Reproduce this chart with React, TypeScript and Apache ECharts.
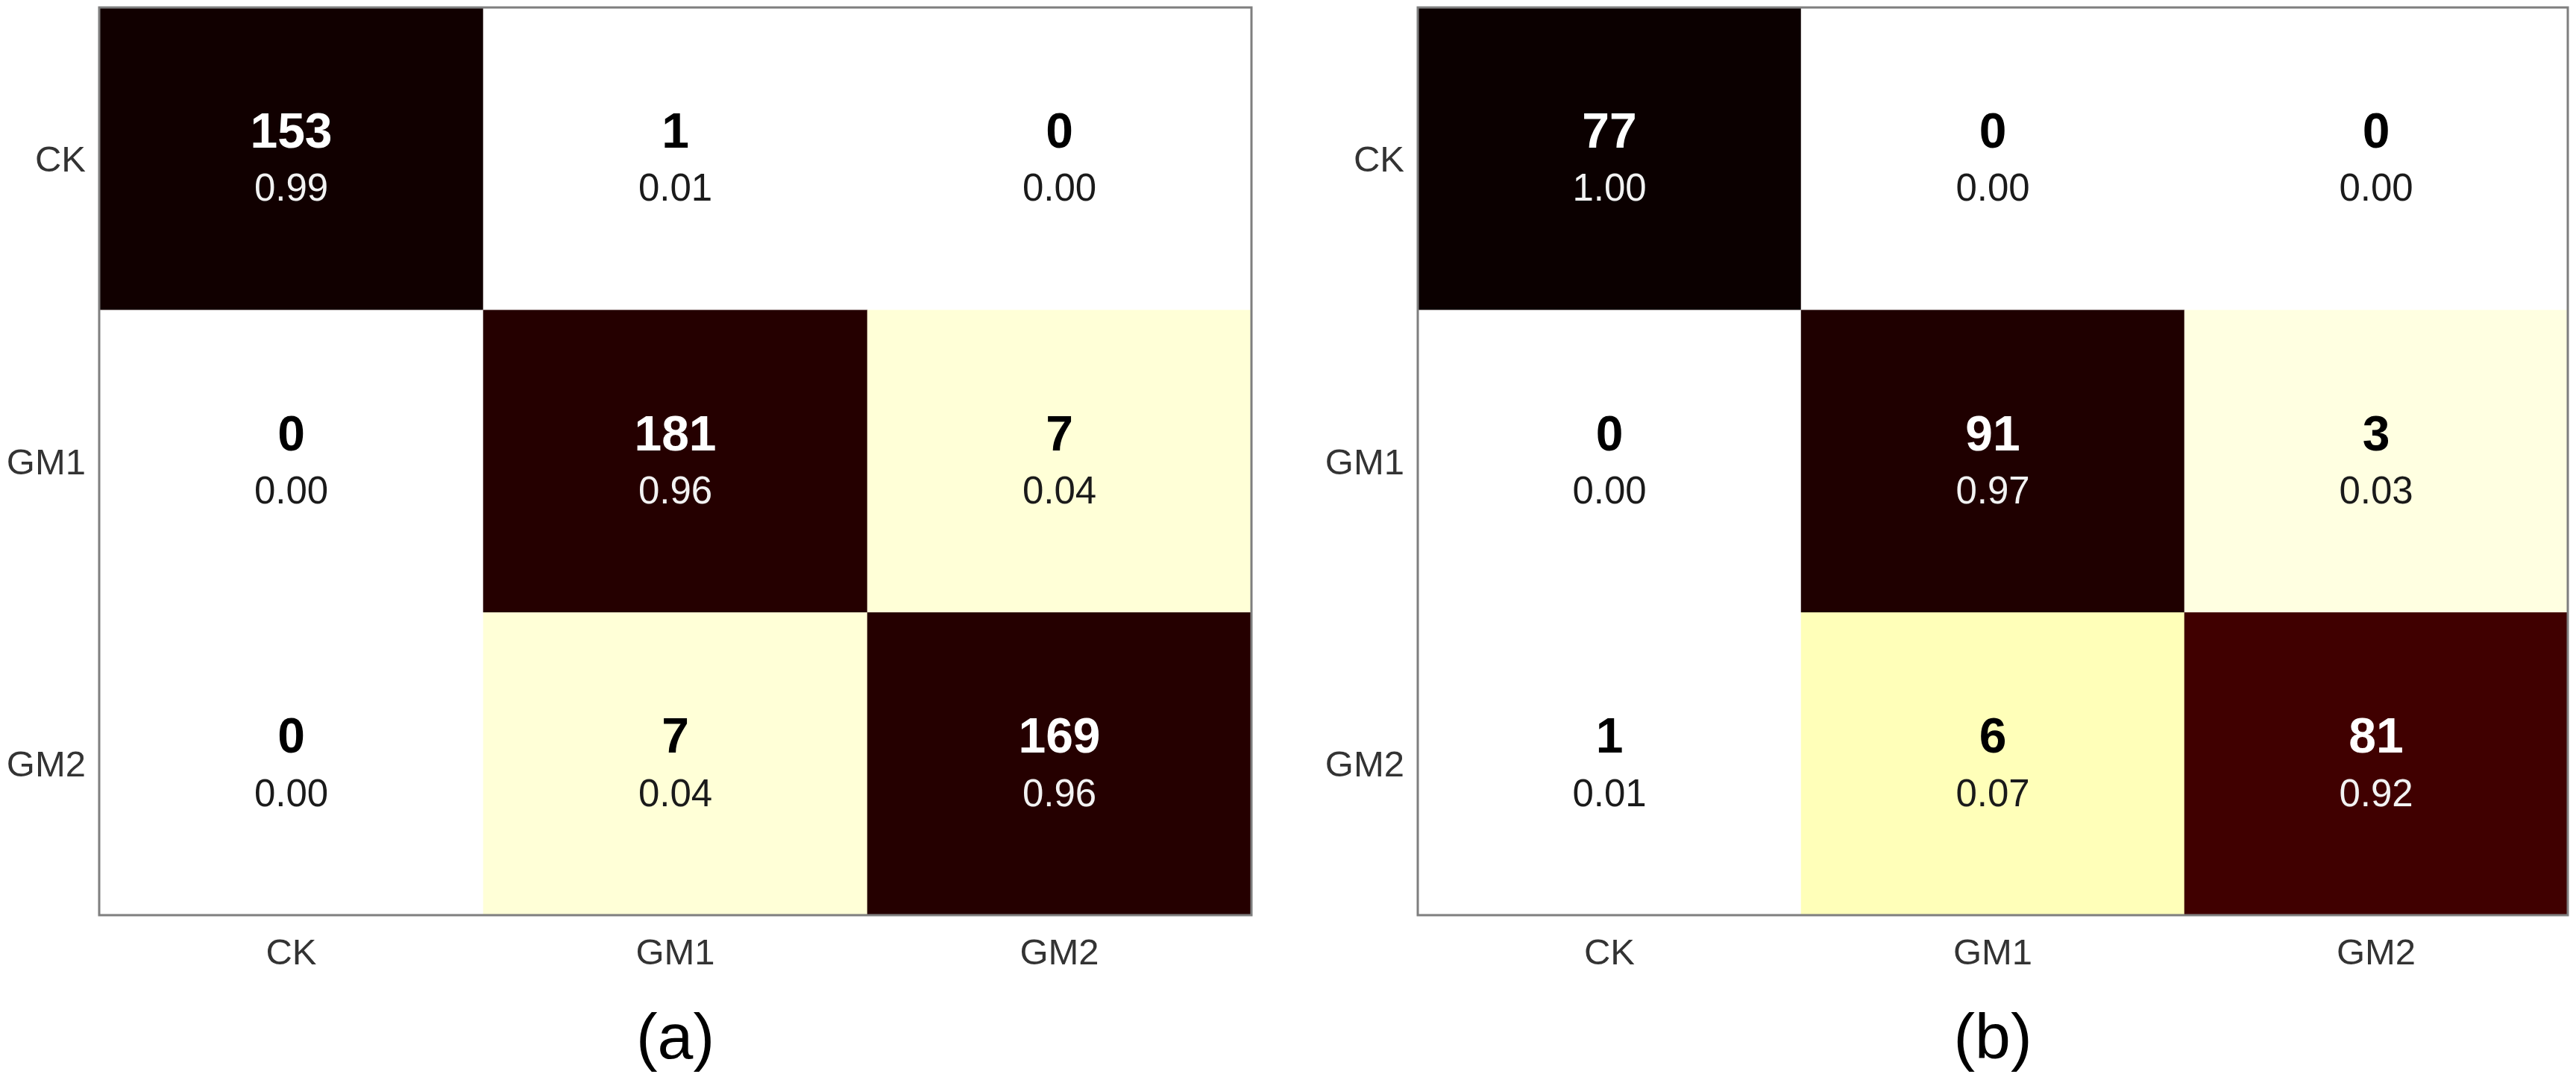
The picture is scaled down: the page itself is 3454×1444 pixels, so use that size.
import React, { useEffect, useRef } from 'react';
import * as echarts from 'echarts';

// ---- data ----
const categories = ['CK', 'GM1', 'GM2'];
const countsA = [
  [153, 1, 0],
  [0, 181, 7],
  [0, 7, 169],
];
const ratiosA = [
  [0.99, 0.01, 0.0],
  [0.0, 0.96, 0.04],
  [0.0, 0.04, 0.96],
];
const countsB = [
  [77, 0, 0],
  [0, 91, 3],
  [1, 6, 81],
];
const ratiosB = [
  [1.0, 0.0, 0.0],
  [0.0, 0.97, 0.03],
  [0.01, 0.07, 0.92],
];
const panelTitles = ['(a)', '(b)'];

// ---- layout ----
const W = 3454;
const H = 1444;
const FONT = '"Liberation Sans", Arial, Helvetica, sans-serif';
const panels = [
  { left: 133, top: 10, width: 1545, height: 1217 },
  { left: 1901, top: 10, width: 1542, height: 1217 },
];

// matplotlib "hot" colormap, reversed (near-zero shares shown as white)
function clamp(v: number) {
  return Math.max(0, Math.min(1, v));
}
function hotR(v: number) {
  if (v <= 0.012) return '#ffffff';
  const x = 1 - v;
  const r = clamp(0.0416 + (1 - 0.0416) * (x / 0.365079));
  const g = clamp((x - 0.365079) / (0.746032 - 0.365079));
  const b = clamp((x - 0.746032) / (1 - 0.746032));
  const h = (c: number) => Math.round(c * 255).toString(16).padStart(2, '0');
  return '#' + h(r) + h(g) + h(b);
}
const hotStops: string[] = [];
for (let i = 0; i <= 200; i++) hotStops.push(hotR(i / 200));

function buildData(counts: number[][], ratios: number[][]) {
  const out: any[] = [];
  for (let r = 0; r < categories.length; r++) {
    for (let c = 0; c < categories.length; c++) {
      out.push([c, r, ratios[r][c], counts[r][c]]);
    }
  }
  return out;
}

export default function App() {
  const ref = useRef<HTMLDivElement>(null);
  useEffect(() => {
    if (!ref.current) return;
    const chart = echarts.init(ref.current, undefined, { renderer: 'svg', width: W, height: H });
    const datasets = [buildData(countsA, ratiosA), buildData(countsB, ratiosB)];

    const rich = {
      cw: { fontSize: 66, fontWeight: 'bold', color: '#ffffff', lineHeight: 78, fontFamily: FONT },
      fw: { fontSize: 51, color: '#f2f2f2', lineHeight: 76, fontFamily: FONT },
      cb: { fontSize: 66, fontWeight: 'bold', color: '#000000', lineHeight: 78, fontFamily: FONT },
      fb: { fontSize: 51, color: '#1a1a1a', lineHeight: 76, fontFamily: FONT },
    };

    const option: any = {
      animation: false,
      backgroundColor: '#ffffff',
      grid: panels.map((p) => ({ ...p, containLabel: false, show: false })),
      xAxis: panels.map((_, i) => ({
        type: 'category',
        gridIndex: i,
        data: categories,
        position: 'bottom',
        axisLine: { show: false },
        axisTick: { show: false },
        splitLine: { show: false },
        axisLabel: { fontSize: 49, color: '#333333', margin: 24, fontFamily: FONT },
      })),
      yAxis: panels.map((_, i) => ({
        type: 'category',
        gridIndex: i,
        data: categories,
        inverse: true,
        axisLine: { show: false },
        axisTick: { show: false },
        splitLine: { show: false },
        axisLabel: { fontSize: 49, color: '#333333', margin: 18, fontFamily: FONT },
      })),
      visualMap: datasets.map((_, i) => ({
        type: 'continuous',
        show: false,
        min: 0,
        max: 1,
        dimension: 2,
        seriesIndex: i,
        inRange: { color: hotStops },
      })),
      series: datasets.map((d, i) => ({
        type: 'heatmap',
        xAxisIndex: i,
        yAxisIndex: i,
        data: d,
        itemStyle: { borderWidth: 0 },
        label: {
          show: true,
          formatter: (p: any) => {
            const dark = p.data[2] > 0.5;
            const cKey = dark ? 'cw' : 'cb';
            const fKey = dark ? 'fw' : 'fb';
            return `{${cKey}|${p.data[3]}}\n{${fKey}|${p.data[2].toFixed(2)}}`;
          },
          rich,
        },
        emphasis: { disabled: true },
      })),
      graphic: [
        ...panels.map((p) => ({
          type: 'rect',
          z: 100,
          shape: { x: p.left, y: p.top, width: p.width, height: p.height },
          style: { fill: 'none', stroke: '#7f7f7f', lineWidth: 3 },
          silent: true,
        })),
        ...panels.map((p, i) => ({
          type: 'text',
          z: 100,
          x: p.left + p.width / 2,
          y: 1389,
          style: {
            text: panelTitles[i],
            fontSize: 86,
            fontFamily: FONT,
            fill: '#000000',
            textAlign: 'center',
            textVerticalAlign: 'middle',
            align: 'center',
            verticalAlign: 'middle',
          },
        })),
      ],
    };
    chart.setOption(option);
    return () => chart.dispose();
  }, []);
  return (
    <div
      ref={ref}
      style={{ position: 'absolute', left: 0, top: 0, width: W, height: H, background: '#fff' }}
    />
  );
}
